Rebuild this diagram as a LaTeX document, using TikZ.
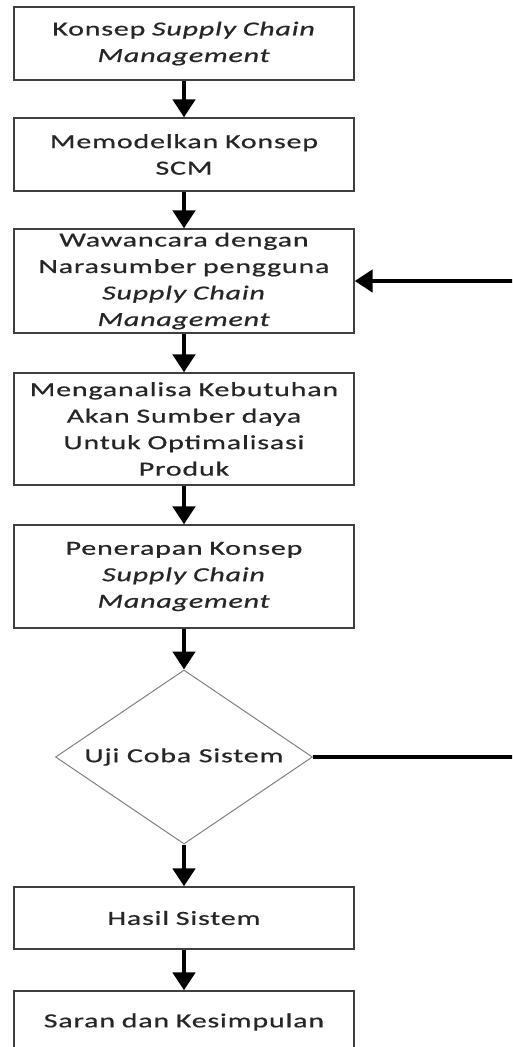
\documentclass[tikz,border=0pt]{standalone}
\usepackage{fontspec}
\setmainfont{Carlito}[FakeStretch=1.5,LetterSpace=4,FakeBold=0.6]
\usepackage{tikz}
\usetikzlibrary{shapes.geometric,arrows.meta}

\begin{document}
\begin{tikzpicture}[x=1pt,y=-1pt,
  box/.style={draw=black!75,line width=1.3pt,fill=white,minimum width=340pt,text width=336pt,inner sep=0pt,align=center,text=black!85,font=\fontsize{20}{26.5}\selectfont},
  decision/.style={diamond,draw=black!50,line width=1pt,minimum width=257pt,minimum height=174pt,shape aspect=1.47,inner sep=0pt,text=black!85,font=\fontsize{20}{26.5}\selectfont},
  arr/.style={line width=4.5pt,-{Triangle[width=22pt,length=18pt]}}]

\def\MIDX{184}

\useasboundingbox (0,0) rectangle (512,1047);
\clip (0,0) rectangle (512,1047);

% steps
\node at (\MIDX,43.5) [box,minimum height=73pt] (konsep) {Konsep \textit{Supply Chain}\\\textit{Management}};
\node at (\MIDX,154.5) [box,minimum height=73pt] (model) {Memodelkan Konsep\\SCM};
\node at (\MIDX,281) [box,minimum height=104pt] (wawan) {Wawancara dengan\\Narasumber pengguna\\\textit{Supply Chain}\\\textit{Management}};
\node at (\MIDX,429) [box,minimum height=112pt] (analisa) {Menganalisa Kebutuhan\\Akan Sumber daya\\Untuk Optimalisasi\\Produk};
\node at (\MIDX,576.5) [box,minimum height=103pt] (terap) {Penerapan Konsep\\\textit{Supply Chain}\\\textit{Management}};
\node at (\MIDX,757) [decision] (uji) {Uji Coba Sistem};
\node at (\MIDX,918) [box,minimum height=62pt] (hasil) {Hasil Sistem};
\node at (\MIDX,1022) [box,minimum height=62pt] (saran) {Saran dan Kesimpulan};

% feedback corner, just outside the page
\coordinate (fb) at (520,757);

% arrows
\draw[arr] (konsep) -- (model);
\draw[arr] (model) -- (wawan);
\draw[arr] (wawan) -- (analisa);
\draw[arr] (analisa) -- (terap);
\draw[arr] (terap) -- (uji);
\draw[arr] (uji) -- (hasil);
\draw[arr] (hasil) -- (saran);
\draw[arr] (uji.east) -- (fb) |- (wawan.east);

\end{tikzpicture}
\end{document}
